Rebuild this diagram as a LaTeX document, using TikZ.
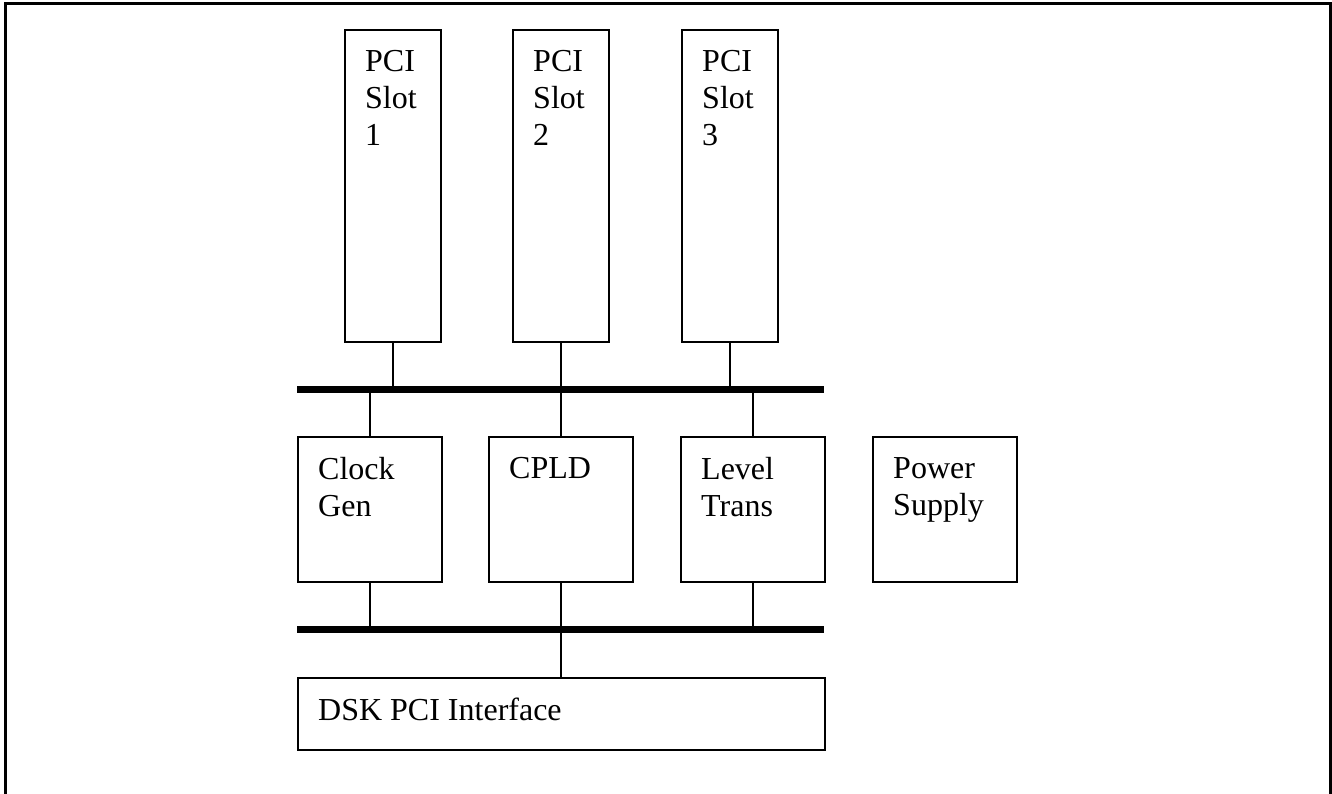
\documentclass[tikz,border=0pt]{standalone}
\usepackage{fontspec}
\setmainfont{Liberation Serif}
\begin{document}
\begin{tikzpicture}[x=1pt,y=-1pt,
  blockbox/.style={draw,line width=1.6pt,minimum width=144pt,minimum height=145pt,anchor=north west,inner sep=0pt},
  slotbox/.style={draw,line width=1.6pt,minimum width=96pt,minimum height=312pt,anchor=north west,inner sep=0pt},
  boxtext/.style={anchor=north west,inner sep=0pt,align=left,font=\fontsize{32}{37}\selectfont},
  bus/.style={line width=7pt},
  link/.style={line width=1.4pt}]
\useasboundingbox (0,0) rectangle (1332,794);
% outer frame, open at the bottom
\draw[line width=3pt] (5,800) -- (5,4) -- (1330,4) -- (1330,800);

% PCI slots
\node[slotbox] (slot1) at (344,29) {};
\node[slotbox] (slot2) at (512,29) {};
\node[slotbox] (slot3) at (681,29) {};
\node[boxtext] (t1) at ([xshift=21pt,yshift=-21pt]slot1.north west) {PCI\\Slot\\1};
\node[boxtext] (t2) at ([xshift=21pt,yshift=-21pt]slot2.north west) {PCI\\Slot\\2};
\node[boxtext] (t3) at ([xshift=21pt,yshift=-21pt]slot3.north west) {PCI\\Slot\\3};

% PCI bus
\coordinate (busAw) at (297,389);
\coordinate (busAe) at (824,389);
\draw[bus] (busAw) -- (busAe);

% middle row of blocks
\node[blockbox] (clk) at (297,436) {};
\node[blockbox] (cpld) at (488,436) {};
\node[blockbox] (lvl) at (680,436) {};
\node[blockbox] (pwr) at (872,436) {};
\node[boxtext] (tc) at ([xshift=21pt,yshift=-21pt]clk.north west) {Clock\\Gen};
\node[boxtext] (tp) at ([xshift=21pt,yshift=-21pt]cpld.north west) {CPLD};
\node[boxtext] (tl) at ([xshift=21pt,yshift=-21pt]lvl.north west) {Level\\Trans};
\node[boxtext] (tw) at ([xshift=21pt,yshift=-21pt]pwr.north west) {Power\\Supply};

% local bus
\coordinate (busBw) at (297,629);
\coordinate (busBe) at (824,629);
\draw[bus] (busBw) -- (busBe);

% DSK interface
\node[draw,line width=1.6pt,minimum width=527pt,minimum height=72pt,anchor=north west,inner sep=0pt] (dsk) at (297,677) {};
\node[boxtext] (td) at ([xshift=21pt,yshift=-21pt]dsk.north west) {DSK PCI Interface};

% slot stubs onto the PCI bus
\draw[link] (slot1.south) -- (slot1.south |- busAw);
\draw[link] (slot2.south) -- (slot2.south |- busAw);
\draw[link] (slot3.south) -- (slot3.south |- busAw);
% blocks onto the PCI bus
\draw[link] (clk.north) -- (clk.north |- busAw);
\draw[link] (cpld.north) -- (cpld.north |- busAw);
\draw[link] (lvl.north) -- (lvl.north |- busAw);
% blocks onto the local bus
\draw[link] (clk.south) -- (clk.south |- busBw);
\draw[link] (cpld.south) -- (cpld.south |- busBw);
\draw[link] (lvl.south) -- (lvl.south |- busBw);
% local bus down to the interface
\draw[link] (cpld.south |- busBw) -- (cpld.south |- dsk.north);
\end{tikzpicture}
\end{document}
